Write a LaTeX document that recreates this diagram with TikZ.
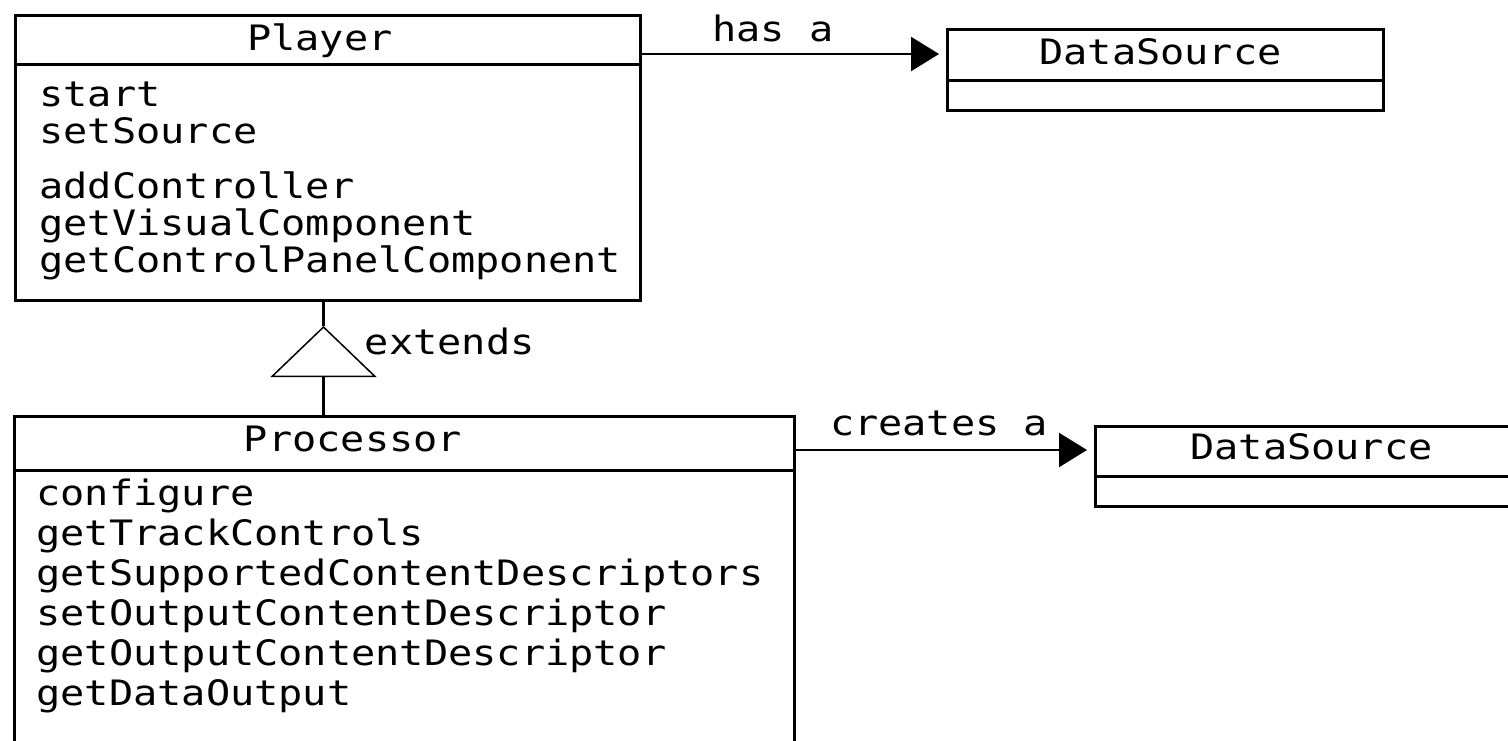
\documentclass[tikz,border=0pt]{standalone}
\usepackage{fontspec}
\usetikzlibrary{arrows.meta,positioning}
\newfontfamily\umlfont[FakeStretch=1.15]{DejaVu Sans Mono}

\begin{document}
\begin{tikzpicture}[
  classbox/.style={draw, line width=1.5pt, anchor=north west, inner sep=0pt},
  umltext/.style={inner sep=0pt, font=\umlfont\fontsize{17.5}{20}\selectfont},
  ops/.style={inner sep=0pt, align=left, anchor=base west, font=\umlfont\fontsize{17.5}{#1}\selectfont},
  rule/.style={line width=1.5pt},
  assoc/.style={-{Triangle[length=14pt, width=17pt]}, line width=1.2pt, shorten >=3.5pt},
  extends/.style={-{Triangle[open, length=25.5pt, width=53pt, line width=0.75pt]}, line width=1.5pt}
]
\useasboundingbox (0,0) rectangle (754pt,-370pt);
\node[classbox, minimum width=312.5pt, minimum height=142.5pt] (player) at (7pt,-7pt) {};
\node[umltext, below=18pt of player.north, xshift=-4pt, anchor=base] (playername) {Player};
\draw[rule] ([yshift=-25pt]player.north west) -- ([yshift=-25pt]player.north east);
\node[ops=18.5pt, below right=129pt and 12.5pt of player.north west, anchor=base west] (playerops)
  {start\\setSource\\[9pt]addController\\getVisualComponent\\getControlPanelComponent};

\node[classbox, minimum width=218pt, minimum height=40.5pt, below right=7pt and 152pt of player.north east] (dsone) {};
\node[umltext, below=18pt of dsone.north, xshift=-2.5pt, anchor=base] (dsonename) {DataSource};
\draw[rule] ([yshift=-26pt]dsone.north west) -- ([yshift=-26pt]dsone.north east);

\node[classbox, minimum width=390pt, minimum height=170pt, below right=56.5pt and -0.5pt of player.south west] (processor) {};
\node[umltext, below=18pt of processor.north, xshift=-25.75pt, anchor=base] (processorname) {Processor};
\draw[rule] ([yshift=-27.5pt]processor.north west) -- ([yshift=-27.5pt]processor.north east);
\node[ops=20pt, below right=145pt and 11.5pt of processor.north west, anchor=base west] (processorops)
  {configure\\getTrackControls\\getSupportedContentDescriptors\\setOutputContentDescriptor\\getOutputContentDescriptor\\getDataOutput};

\node[classbox, minimum width=216pt, minimum height=40pt, below right=5pt and 149pt of processor.north east] (dstwo) {};
\node[umltext, below=17pt of dstwo.north, anchor=base] (dstwoname) {DataSource};
\draw[rule] ([yshift=-25.5pt]dstwo.north west) -- ([yshift=-25.5pt]dstwo.north east);

\draw[assoc] ([yshift=-20pt]player.north east) -- ([yshift=-13pt]dsone.north west)
  node[umltext, pos=0.43, above=5.5pt] (hasa) {has a};
\draw[assoc] ([yshift=-17.5pt]processor.north east) -- ([yshift=-12.5pt]dstwo.north west)
  node[umltext, pos=0.48, above=6.5pt] (createsa) {creates a};

\coordinate[below=12pt of player.south, xshift=-2.25pt] (apex);
\draw[rule] (player.south -| apex) -- (apex);
\draw[extends] (apex |- processor.north) -- (apex);
\node[umltext, below right=14pt and 20.5pt of apex, anchor=base west] (extlabel) {extends};
\end{tikzpicture}
\end{document}
